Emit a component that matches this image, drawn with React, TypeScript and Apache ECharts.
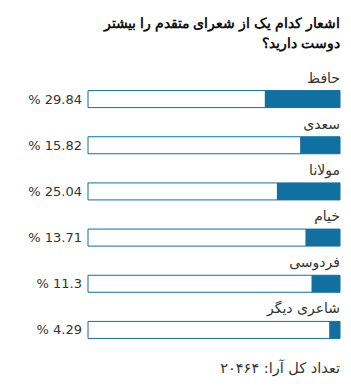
import React, { useEffect, useRef } from "react";
import * as echarts from "echarts";

const categories = ["حافظ", "سعدی", "مولانا", "خیام", "فردوسی", "شاعری دیگر"];
const values = [29.84, 15.82, 25.04, 13.71, 11.3, 4.29];
const valueLabels = values.map((v) => "% " + v);
const titleLines = ["\u200Fاشعار کدام یک از شعرای متقدم را بیشتر\u200F", "\u200Fدوست دارید؟\u200F"];
const footerText = "\u200Fتعداد کل آرا: ۲۰۴۶۴\u200F";

const BLUE = "#11709f";

export default function App() {
  const ref = useRef<HTMLDivElement>(null);
  useEffect(() => {
    const chart = echarts.init(ref.current!, null, { renderer: "svg" });
    const titleStyle = {
      fontFamily: "Liberation Sans, Arial, sans-serif",
      fontWeight: "bold",
      fontSize: 14,
      fill: "#111",
      align: "right",
      verticalAlign: "middle",
    };
    chart.setOption({
      animation: false,
      backgroundColor: "#fff",
      graphic: [
        { type: "text", x: 340, y: 23, style: { ...titleStyle, text: titleLines[0] } },
        { type: "text", x: 340, y: 43, style: { ...titleStyle, text: titleLines[1] } },
        {
          type: "text",
          x: 340,
          y: 368,
          style: {
            text: footerText,
            fontFamily: "DejaVu Sans",
            fontSize: 14.5,
            fill: "#333",
            align: "right",
            verticalAlign: "middle",
          },
        },
      ],
      grid: { left: 88, right: 11, top: 76, bottom: 37, containLabel: false },
      xAxis: { type: "value", min: 0, max: 100, inverse: true, show: false },
      yAxis: [
        {
          type: "category",
          data: categories,
          inverse: true,
          show: false,
        },
        {
          type: "category",
          data: valueLabels,
          inverse: true,
          position: "left",
          axisLine: { show: false },
          axisTick: { show: false },
          axisLabel: {
            interval: 0,
            margin: 6,
            fontFamily: "DejaVu Sans",
            fontSize: 13,
            color: "#333",
          },
        },
      ],
      series: [
        {
          type: "bar",
          data: values,
          barWidth: 17,
          yAxisIndex: 0,
          itemStyle: { color: BLUE },
          showBackground: true,
          backgroundStyle: { color: "#fff", borderColor: BLUE, borderWidth: 1 },
          label: {
            show: true,
            formatter: "{b}",
            position: ["100%", -13],
            align: "right",
            verticalAlign: "middle",
            fontFamily: "DejaVu Sans",
            fontSize: 14,
            color: "#333",
          },
        },
      ],
    });
    return () => chart.dispose();
  }, []);
  return (
    <div
      ref={ref}
      style={{ position: "fixed", left: 0, top: 0, width: 351, height: 390 }}
    />
  );
}
